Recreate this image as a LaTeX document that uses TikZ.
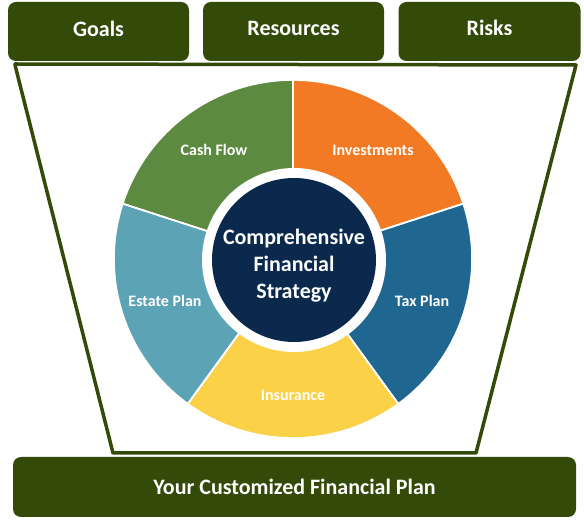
\documentclass[tikz,border=0pt]{standalone}
\usepackage{fontspec}
\setmainfont{Carlito}
\begin{document}
\begin{tikzpicture}[line cap=round,line join=round,x=1pt,y=1pt,
  topbox/.style={fill=olivedark,rounded corners=8pt,inner sep=0pt,text=white,minimum height=59pt,text depth=6pt,font=\bfseries\fontsize{22}{26}\selectfont},
  slice/.style={draw=white,line width=1.6pt},
  slicelabel/.style={text=white,font=\bfseries\fontsize{16}{19}\selectfont}]
\definecolor{olivedark}{rgb}{0.2,0.29,0.03}
\definecolor{cashgreen}{rgb}{0.36,0.54,0.25}
\definecolor{investorange}{rgb}{0.95,0.48,0.14}
\definecolor{taxblue}{rgb}{0.12,0.40,0.57}
\definecolor{insureyellow}{rgb}{0.98,0.82,0.28}
\definecolor{estateteal}{rgb}{0.36,0.64,0.71}
\definecolor{corenavy}{rgb}{0.04,0.16,0.30}
\useasboundingbox (0,0) rectangle (584,525);
% top boxes
\node[topbox,minimum width=181pt] (goals) at (98.5,493.5) {Goals};
\node[topbox,minimum width=181pt] (resources) at (293.5,493.5) {Resources};
\node[topbox,minimum width=182pt,text depth=8pt] (risks) at (489.5,493.5) {Risks};
% funnel
\draw [line width=3.5pt,color=olivedark] (15,461) -- (15,460) -- (113,72) -- (476,72) -- (576,460) -- cycle;
% bottom box
\node[topbox,minimum width=563pt,minimum height=60pt,text depth=0pt] (plan) at (294.5,38) {Your Customized Financial Plan};
% wheel
\coordinate (c) at (293,266);
\fill[slice,fill=cashgreen] (c) -- ++(90:179) arc (90:162:179) -- cycle;
\fill[slice,fill=investorange] (c) -- ++(18:179) arc (18:90:179) -- cycle;
\fill[slice,fill=taxblue] (c) -- ++(-54:179) arc (-54:18:179) -- cycle;
\fill[slice,fill=insureyellow] (c) -- ++(-126:179) arc (-126:-54:179) -- cycle;
\fill[slice,fill=estateteal] (c) -- ++(162:179) arc (162:234:179) -- cycle;
\draw[slice] (c) -- ++(90:179) (c) -- ++(18:179) (c) -- ++(-54:179) (c) -- ++(-126:179) (c) -- ++(162:179);
\fill[white] (294,265) circle (92);
\fill[corenavy] (294,265) circle (82);
\node[text=white,align=center,font=\bfseries\fontsize{22}{27}\selectfont] (core) at (294,259) {Comprehensive\\Financial\\Strategy};
\node[slicelabel] (cashflow) at (214,375) {Cash Flow};
\node[slicelabel] (investments) at (373,375) {Investments};
\node[slicelabel] (taxplan) at (422,224) {Tax Plan};
\node[slicelabel] (insurance) at (293,130) {Insurance};
\node[slicelabel] (estateplan) at (165,224) {Estate Plan};
\end{tikzpicture}
\end{document}
